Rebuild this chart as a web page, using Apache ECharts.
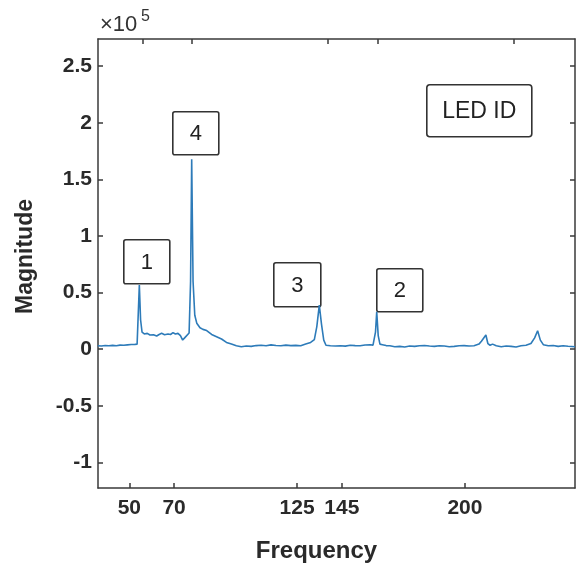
<!DOCTYPE html>
<html>
<head>
<meta charset="utf-8">
<script src="https://cdn.jsdelivr.net/npm/echarts@6/dist/echarts.min.js"></script>
<style>
html,body{margin:0;padding:0;background:#fff;}
#chart{width:577px;height:565px;}
</style>
</head>
<body>
<div id="chart"></div>
<script>
// Frequency values of the spectrum (Hz)
const frequency = [
  32, 33.5, 35, 36.5, 38, 39.5, 41, 42.5, 44, 45.5, 47, 47.9,
  48.8, 49.3, 49.9, 50.8, 52, 53.1, 54.5, 55.8, 56.8, 57.8, 59, 60.4,
  61.4, 62.4, 63.4, 64.4, 65.4, 66.3, 67.1, 67.9, 68.9, 69.5, 69.95, 70.5,
  71.2, 72, 73.3, 74.5, 76, 78, 80, 82, 84, 86, 88, 90,
  92, 94, 96, 98, 100, 102, 104, 106, 108, 110, 112, 114,
  116, 118, 119.5, 120.5, 121.5, 122.4, 123.3, 124.2, 126, 128, 130, 132,
  134, 136, 138, 140, 142, 143.2, 144.2, 144.7, 145.3, 146, 147, 148.5,
  150, 152, 154, 156, 158, 160, 162, 164, 166, 168, 170, 172,
  174, 176, 178, 180, 182, 184, 186, 187, 187.8, 188.8, 189.6, 190.5,
  191.5, 193, 195, 197, 199, 201, 203, 205, 207, 208.5, 209.7, 210.8,
  212, 214, 216, 218, 220, 222, 224.8
];
// Magnitude values (raw)
const magnitude = [
  3000, 2800, 3200, 3100, 3400, 3000, 3600, 3500, 3800, 4100, 4300, 4500,
  56700, 26000, 15000, 13500, 14000, 12500, 12800, 11700, 13000, 14000, 12800, 13400,
  13000, 14600, 13500, 14000, 12000, 8100, 10000, 11000, 14300, 60000, 167800, 60000,
  30000, 23000, 19000, 17500, 16500, 13000, 11000, 9000, 6000, 4500, 3000, 2200,
  2800, 2500, 3200, 3500, 3000, 3800, 3300, 3000, 3600, 3200, 3400, 3000,
  4500, 6000, 8500, 20000, 39000, 22000, 8000, 3500, 3000, 2800, 3000, 2700,
  3500, 3200, 3000, 3700, 4000, 3600, 15000, 33000, 12000, 4500, 4000, 3200,
  3000, 2200, 2500, 2000, 2800, 2500, 3000, 3300, 2800, 2500, 3000, 2800,
  2200, 2500, 3000, 3200, 2800, 3000, 4500, 7000, 6000, 12500, 5000, 3500,
  4500, 3000, 2200, 2800, 2500, 2000, 3000, 3500, 5000, 10000, 16300, 8000,
  4000, 3000, 3200, 2500, 3000, 2600, 2200
];
// Tick values
const xTickValues = [50, 70, 125, 145, 200];
const yTickValues = [-100000, -50000, 0, 50000, 100000, 150000, 200000, 250000];
// Peak annotation labels
const peakLabels = ['1', '4', '3', '2'];
const legendTitle = 'LED ID';
const exponentBase = '×10';
const exponentPower = '5';

const axisColor = '#3a3a3a';
const labelColor = '#2a2a2a';
const fontFam = '"Liberation Sans", Arial, Helvetica, sans-serif';

const chart = echarts.init(document.getElementById('chart'), null, {renderer: 'canvas'});

const boxes = [
  {x: 123, y: 239, w: 46, h: 44, t: peakLabels[0]},
  {x: 172, y: 111, w: 46, h: 43, t: peakLabels[1]},
  {x: 273, y: 262, w: 47, h: 44, t: peakLabels[2]},
  {x: 376, y: 268, w: 46, h: 43, t: peakLabels[3]}
];

const graphics = boxes.map(b => ({
  type: 'group', left: b.x, top: b.y, z: 100,
  children: [
    {type: 'rect', shape: {x: 0, y: 0, width: b.w, height: b.h, r: 2},
     style: {fill: '#fff', stroke: '#333', lineWidth: 1.6}},
    {type: 'text', x: b.w / 2, y: b.h / 2 + 1,
     style: {text: b.t, fontSize: 22, fontFamily: fontFam, fill: '#222', align: 'center', verticalAlign: 'middle'}}
  ]
}));
graphics.push({
  type: 'group', left: 426, top: 84, z: 100,
  children: [
    {type: 'rect', shape: {x: 0, y: 0, width: 105, height: 52, r: 3},
     style: {fill: '#fff', stroke: '#333', lineWidth: 1.6}},
    {type: 'text', x: 52.5, y: 27,
     style: {text: legendTitle, fontSize: 23, fontFamily: fontFam, fill: '#222', align: 'center', verticalAlign: 'middle'}}
  ]
});
graphics.push({
  type: 'text', left: 100, top: 14,
  style: {text: exponentBase, fontSize: 22, fontFamily: fontFam, fill: '#333'}
});
graphics.push({
  type: 'text', left: 141, top: 9,
  style: {text: exponentPower, fontSize: 16, fontFamily: fontFam, fill: '#333'}
});

const fmtY = v => String(Math.round(v / 10000) / 10);

const xLine = {show: true, onZero: false, lineStyle: {color: axisColor, width: 1.5}};

chart.setOption({
  animation: false,
  backgroundColor: '#fff',
  grid: {left: 98, right: 2, top: 39, bottom: 77, containLabel: false, outerBoundsMode: 'none'},
  xAxis: [
    {
      type: 'value', position: 'bottom', min: 36, max: 249.2,
      name: 'Frequency', nameLocation: 'middle', nameGap: 51,
      nameTextStyle: {fontSize: 24, fontWeight: 'bold', color: '#2a2a2a', fontFamily: fontFam, padding: [0, 40, 0, 0]},
      axisLine: xLine,
      axisTick: {show: true, inside: true, length: 5, customValues: xTickValues, lineStyle: {color: axisColor, width: 1.5}},
      axisLabel: {show: true, customValues: xTickValues, margin: 10, fontSize: 21, fontWeight: 'bold', color: labelColor, fontFamily: fontFam},
      splitLine: {show: false}
    },
    {
      type: 'value', position: 'top', min: 32.1, max: 224.8,
      axisLine: xLine,
      axisTick: {show: true, inside: true, length: 5, customValues: xTickValues, lineStyle: {color: axisColor, width: 1.5}},
      axisLabel: {show: false},
      splitLine: {show: false}
    }
  ],
  yAxis: [
    {
      type: 'value', position: 'left', min: -122600, max: 274000,
      name: 'Magnitude', nameLocation: 'middle', nameGap: 61, nameRotate: 90,
      nameTextStyle: {fontSize: 23, fontWeight: 'bold', color: '#2a2a2a', fontFamily: fontFam, padding: [0, 0, 0, 14]},
      axisLine: {show: true, onZero: false, lineStyle: {color: axisColor, width: 1.5}},
      axisTick: {show: true, inside: true, length: 5, customValues: yTickValues, lineStyle: {color: axisColor, width: 1.5}},
      axisLabel: {show: true, customValues: yTickValues, margin: 6, fontSize: 21, fontWeight: 'bold', color: labelColor, fontFamily: fontFam, formatter: fmtY},
      splitLine: {show: false}
    },
    {
      type: 'value', position: 'right', min: -122600, max: 274000,
      axisLine: {show: true, onZero: false, lineStyle: {color: axisColor, width: 1.5}},
      axisTick: {show: true, inside: true, length: 5, customValues: yTickValues, lineStyle: {color: axisColor, width: 1.5}},
      axisLabel: {show: false},
      splitLine: {show: false}
    }
  ],
  series: [{
    type: 'line',
    xAxisIndex: 1,
    yAxisIndex: 0,
    data: frequency.map((f, i) => [f, magnitude[i]]),
    showSymbol: false,
    symbol: 'none',
    lineStyle: {color: '#2d7bb9', width: 1.6},
    z: 3
  }],
  graphic: graphics
});
</script>
</body>
</html>
